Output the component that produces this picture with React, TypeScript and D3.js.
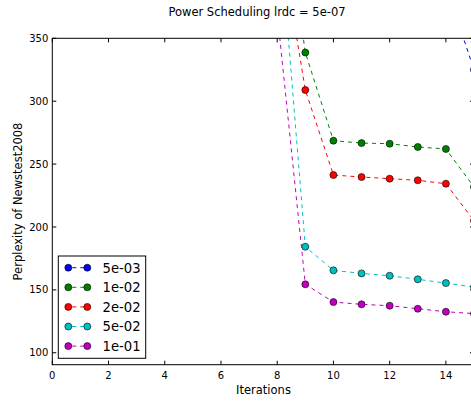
import React from "react";
import * as d3 from "d3";

const W = 471;
const H = 403;

const iterations = [8, 9, 10, 11, 12, 13, 14, 15];
const seriesLabels = ["5e-03", "1e-02", "2e-02", "5e-02", "1e-01"];
const seriesColors = ["#0000ff", "#008000", "#ff0000", "#00bfbf", "#bf00bf"];
const s5e03 = [null, null, null, null, null, 470, 392, 325];
const s1e02 = [500, 338.7, 268.6, 266.7, 266.2, 263.6, 262.0, 231.8];
const s2e02 = [445, 308.9, 241.3, 239.7, 238.4, 237.1, 234.4, 205];
const s5e02 = [459, 184.3, 165.5, 163.1, 161.2, 158.4, 155.4, 152.2];
const s1e01 = [370, 154.4, 140.3, 138.5, 137.4, 135.0, 132.6, 131.1];
const seriesValues = [s5e03, s1e02, s2e02, s5e02, s1e01];

const xTicks = [0, 2, 4, 6, 8, 10, 12, 14];
const yTicks = [100, 150, 200, 250, 300, 350];

const title = "Power Scheduling lrdc = 5e-07";
const xLabel = "Iterations";
const yLabel = "Perplexity of Newstest2008";

const L = 52.3, T = 38.3, R = 474, B = 364.7;
const FONT = "DejaVu Sans, sans-serif";

export default function App() {
  const x = d3.scaleLinear().domain([0, 15]).range([L, R]);
  const y = d3.scaleLinear().domain([90.5, 350]).range([B, T]);

  const lineGen = d3
    .line<[number, number | null]>()
    .defined((d) => d[1] != null)
    .x((d) => x(d[0]))
    .y((d) => y(d[1] as number));

  return (
    <svg
      width={W}
      height={H}
      style={{ position: "fixed", left: 0, top: 0, background: "#fff" }}
      fontFamily={FONT}
    >
      <rect x={0} y={0} width={W} height={H} fill="#fff" />
      <defs>
        <clipPath id="plot">
          <rect x={L} y={T} width={R - L} height={B - T} />
        </clipPath>
      </defs>
      <text x={257} y={16} textAnchor="middle" fontSize={11.5} fill="#000">
        {title}
      </text>

      <g clipPath="url(#plot)">
        {seriesValues.map((vals, si) => {
          const pts = iterations.map((it, i) => [it, vals[i]] as [number, number | null]);
          return (
            <g key={si}>
              <path
                d={lineGen(pts) || ""}
                fill="none"
                stroke={seriesColors[si]}
                strokeWidth={1}
                strokeDasharray="4,4"
              />
              {pts
                .filter((p) => p[1] != null)
                .map((p, i) => (
                  <circle
                    key={i}
                    cx={x(p[0])}
                    cy={y(p[1] as number)}
                    r={3.5}
                    fill={seriesColors[si]}
                    stroke="#000"
                    strokeWidth={0.6}
                  />
                ))}
            </g>
          );
        })}
      </g>

      {/* frame */}
      <rect x={L} y={T} width={R - L} height={B - T} fill="none" stroke="#000" strokeWidth={1} />

      {/* x ticks */}
      {xTicks.map((t) => (
        <g key={"x" + t}>
          <line x1={x(t)} x2={x(t)} y1={B} y2={B - 4} stroke="#000" />
          <line x1={x(t)} x2={x(t)} y1={T} y2={T + 4} stroke="#000" />
          <text x={x(t)} y={B + 14} textAnchor="middle" fontSize={10} fill="#000">
            {t}
          </text>
        </g>
      ))}
      {/* y ticks */}
      {yTicks.map((t) => (
        <g key={"y" + t}>
          <line x1={L} x2={L + 4} y1={y(t)} y2={y(t)} stroke="#000" />
          <line x1={R} x2={R - 4} y1={y(t)} y2={y(t)} stroke="#000" />
          <text x={L - 4} y={y(t) + 3.6} textAnchor="end" fontSize={10} fill="#000">
            {t}
          </text>
        </g>
      ))}

      <text x={263.5} y={394} textAnchor="middle" fontSize={11.5} fill="#000">
        {xLabel}
      </text>
      <text
        transform={`translate(22, ${(T + B) / 2}) rotate(-90)`}
        textAnchor="middle"
        fontSize={11.5}
        fill="#000"
      >
        {yLabel}
      </text>

      {/* legend */}
      <g>
        <rect x={58.3} y={256} width={87.4} height={102.3} fill="#fff" stroke="#000" strokeWidth={1} />
        {seriesLabels.map((lab, i) => {
          const cy = 267.7 + i * 19.6;
          return (
            <g key={lab}>
              <line x1={68.3} x2={87.3} y1={cy} y2={cy} stroke={seriesColors[i]} strokeWidth={1} strokeDasharray="4,4" strokeDashoffset={-4} />
              <circle cx={68.3} cy={cy} r={3.5} fill={seriesColors[i]} stroke="#000" strokeWidth={0.6} />
              <circle cx={87.3} cy={cy} r={3.5} fill={seriesColors[i]} stroke="#000" strokeWidth={0.6} />
              <text x={102.5} y={cy + 4.8} fontSize={13.2} fill="#000">
                {lab}
              </text>
            </g>
          );
        })}
      </g>
    </svg>
  );
}
